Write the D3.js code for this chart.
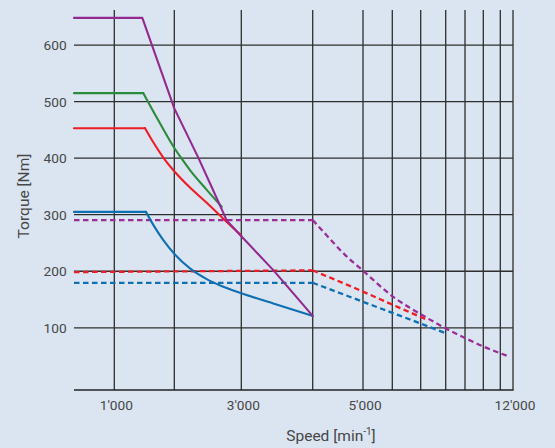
<!DOCTYPE html>
<html><head><meta charset="utf-8">
<script src="https://cdn.jsdelivr.net/npm/d3@7"></script>
<style>html,body{margin:0;padding:0;background:#dbe5f2;} svg{display:block;}</style>
</head><body><svg id="c" width="555" height="448"></svg>
<script>
// ---- data ----
const speedTicks = [1000,2000,3000,4000,5000,6000,7000,8000,9000,10000,11000,12000];
const speedLabelValues = [1000,3000,5000,12000];
const speedLabelTexts = ["1'000","3'000","5'000","12'000"];
const torqueTicks = [100,200,300,400,500,600];

// solid curves: [speed min^-1, torque Nm]
const purpleSolid = [[0,648],[1467,648],[2000,488],[2358,401],[2558,349],[2782,290],[3000,262],[3448,202],[4000,121]];
const greenSolid  = [[0,515],[1483,515],[1733,467],[2006,417],[2110,399],[2234,379],[2484,344],[2709,314]];
const redSolid    = [[0,453],[1512,453],[1650,428],[1817,401],[2006,376],[2234,348],[2484,321],[2731,293],[3000,263]];
const blueSolid   = [[0,305],[1528,305],[1650,282],[1817,255],[2006,230],[2234,205],[2484,186],[2731,172.5],[3000,161],[3448,143],[4000,121]];
// dashed curves
const purpleDashed = [[0,290.5],[4000,290.5],[4211,270],[4642,229],[5000,201],[6000,156],[7000,124],[8000,99],[9000,82],[10000,67],[11000,55],[11600,50]];
const redDashed    = [[0,198.5],[4000,201.5],[5000,164],[6000,141],[7000,119],[7200,115]];
const blueDashed   = [[0,179.6],[4000,179.6],[5000,146],[6000,126.5],[7000,107.5],[7970,91]];

// ---- scales ----
const x = d3.scaleLinear()
  .domain([0].concat(speedTicks))
  .range([74,114.3,174.3,241.3,312.7,363,392.3,420.7,445.7,465,483.3,500.3,513]);
const y = d3.scaleLinear().domain([-10,662]).range([390,10]);

const svg = d3.select("#c");
svg.append("rect").attr("width",555).attr("height",448).attr("fill","#dbe5f2");

const gridColor = "#2e2e2e";
// horizontal grid
svg.append("g").selectAll("line").data(torqueTicks).join("line")
  .attr("x1", x(0)).attr("x2", x(12000))
  .attr("y1", d=>y(d)).attr("y2", d=>y(d))
  .attr("stroke", gridColor).attr("stroke-width",1.3);
// vertical grid
svg.append("g").selectAll("line").data(speedTicks).join("line")
  .attr("x1", d=>x(d)).attr("x2", d=>x(d))
  .attr("y1", y(662)).attr("y2", y(-10))
  .attr("stroke", gridColor).attr("stroke-width",1.3);
// bottom axis line
svg.append("line").attr("x1", x(0)).attr("x2", x(12000)+0.6)
  .attr("y1", y(-10)).attr("y2", y(-10))
  .attr("stroke", "#222").attr("stroke-width",1.5);

const font = "Roboto, 'DejaVu Sans', sans-serif";
const textColor = "#474747";
// y tick labels
svg.append("g").selectAll("text").data(torqueTicks).join("text")
  .attr("x", 66.7).attr("y", d=>y(d)).attr("dy","0.36em")
  .attr("text-anchor","end").attr("font-family",font).attr("font-size",13.7)
  .attr("fill",textColor).text(d=>d);
// x tick labels
svg.append("g").selectAll("text").data(speedLabelValues).join("text")
  .attr("x", d=>x(d)+2).attr("y", 410)
  .attr("text-anchor","middle").attr("font-family",font).attr("font-size",13.7)
  .attr("fill",textColor).text((d,i)=>speedLabelTexts[i]);
// axis titles
const xt = svg.append("text").attr("x",331).attr("y",441).attr("text-anchor","middle")
  .attr("font-family",font).attr("font-size",15.5).attr("fill",textColor);
xt.append("tspan").text("Speed [min");
xt.append("tspan").attr("font-size",10).attr("dy",-6).text("-1");
xt.append("tspan").attr("dy",6).text("]");
svg.append("text").attr("transform","translate(29,196) rotate(-90)")
  .attr("text-anchor","middle").attr("font-family",font).attr("font-size",15.5)
  .attr("fill",textColor).text("Torque [Nm]");

const lineLin = d3.line().x(d=>x(d[0])).y(d=>y(d[1]));
const lineCurve = d3.line().x(d=>x(d[0])).y(d=>y(d[1])).curve(d3.curveMonotoneX);

function drawSeries(pts, color, dashed, curved){
  const g = svg.append("g").attr("fill","none").attr("stroke",color)
    .attr("stroke-width", dashed?2.3:2.1);
  if(dashed) g.attr("stroke-dasharray","5.5,3.5");
  else g.attr("stroke-linejoin","round").attr("stroke-linecap","round");
  if(curved){
    g.append("path").attr("d", lineLin(pts.slice(0,2)));
    g.append("path").attr("d", lineCurve(pts.slice(1)));
  } else {
    g.append("path").attr("d", lineLin(pts));
  }
}
const cPurple = "#932a8f", cGreen = "#2a8c3b", cRed = "#ee1d25", cBlue = "#0f6fb3";
drawSeries(purpleDashed, "#9a2d96", true, true);
drawSeries(blueDashed, cBlue, true, true);
drawSeries(redDashed, cRed, true, true);
drawSeries(blueSolid, cBlue, false, true);
drawSeries(redSolid, cRed, false, true);
drawSeries(greenSolid, cGreen, false, true);
drawSeries(purpleSolid, cPurple, false, false);
</script></body></html>
